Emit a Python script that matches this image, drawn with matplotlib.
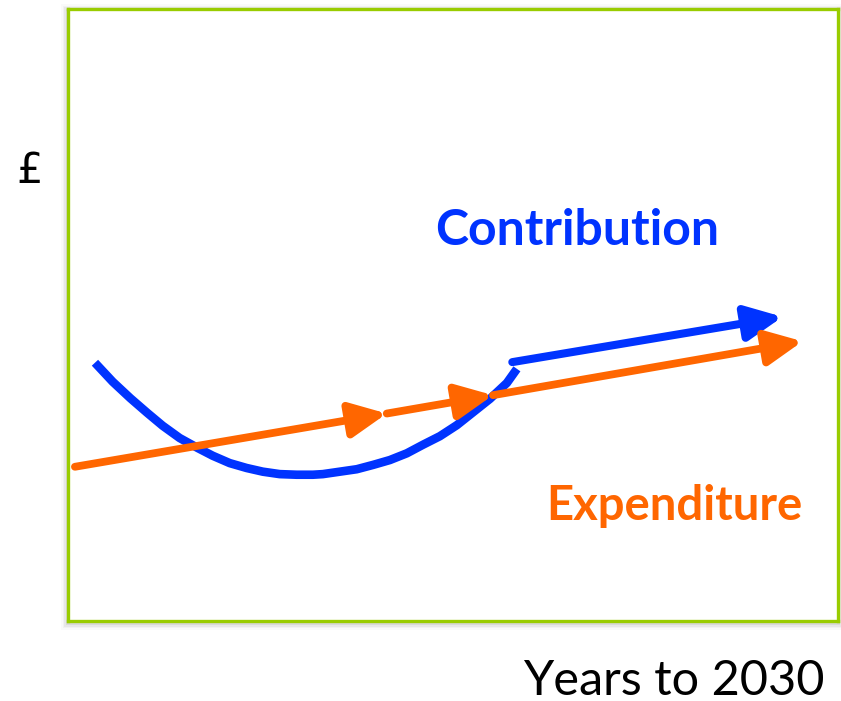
import matplotlib
matplotlib.use("Agg")
import matplotlib.pyplot as plt
from matplotlib.patches import Rectangle

# Conceptual chart: x = years (0..10), y = £ (0..10), arbitrary units
# Contribution: U-shaped dip, then a straight rising arrow
contrib_x = [0.35, 0.58, 0.81, 1.03, 1.23, 1.45, 1.68, 1.88, 2.10, 2.32, 2.53, 2.75, 2.97, 3.18,
             3.31, 3.53, 3.75, 3.96, 4.18, 4.40, 4.61, 4.83, 5.05, 5.26, 5.48, 5.70, 5.83]
contrib_y = [4.22, 3.91, 3.64, 3.40, 3.19, 2.99, 2.83, 2.70, 2.58, 2.50, 2.44, 2.40, 2.39, 2.39,
             2.40, 2.44, 2.48, 2.55, 2.63, 2.74, 2.88, 3.02, 3.20, 3.41, 3.63, 3.89, 4.12]
contrib_arrow_x = [5.77, 9.28]
contrib_arrow_y = [4.23, 4.97]

# Expenditure: steady rise, arrowheads marking each stage
expend_x = [0.09, 4.14, 5.52, 9.54]
expend_y = [2.52, 3.39, 3.69, 4.57]

BLUE = "#0033FF"
ORANGE = "#FF6600"
GREEN = "#99CC00"

fig = plt.figure(figsize=(8.41, 7.01), dpi=100)
W, H = 841, 701
ax = fig.add_axes([68 / W, (H - 621) / H, 770 / W, 612 / H])
ax.set_xlim(0, 10)
ax.set_ylim(0, 10)
ax.set_xticks([])
ax.set_yticks([])
for sp in ax.spines.values():
    sp.set_color(GREEN)
    sp.set_linewidth(2.4)

# soft drop shadow round the frame
for i, a in enumerate([0.06, 0.045, 0.03, 0.02]):
    off = (i + 1) * 1.8
    fig.patches.append(Rectangle(((68 - off) / W, (H - 621 - off - 2) / H),
                                 (770 + 2 * off) / W, (612 + 2 * off) / H,
                                 transform=fig.transFigure, facecolor="black",
                                 alpha=a, edgecolor="none", zorder=-1))

arrow_style = "-|>,head_length=2.2,head_width=1.05"

# expenditure arrows
for i in range(len(expend_x) - 1):
    ax.annotate("", xy=(expend_x[i + 1], expend_y[i + 1]), xytext=(expend_x[i], expend_y[i]),
                arrowprops=dict(arrowstyle=arrow_style, mutation_scale=10, lw=5.6,
                                color=ORANGE, shrinkA=0, shrinkB=0), zorder=3)

# contribution curve + arrow
ax.plot(contrib_x, contrib_y, color=BLUE, lw=6.2, solid_capstyle="butt",
        solid_joinstyle="round", zorder=2)
ax.annotate("", xy=(contrib_arrow_x[1], contrib_arrow_y[1]),
            xytext=(contrib_arrow_x[0], contrib_arrow_y[0]),
            arrowprops=dict(arrowstyle=arrow_style, mutation_scale=10, lw=5.8,
                            color=BLUE, shrinkA=0, shrinkB=0), zorder=2)

ax.text(6.61, 6.15, "Contribution", color=BLUE, fontsize=36, fontweight="bold",
        family="Lato", ha="center", va="baseline")
ax.text(7.88, 1.65, "Expenditure", color=ORANGE, fontsize=34, fontweight="bold",
        family="Lato", ha="center", va="baseline")

fig.text(825 / W, 1 - 695 / H, "Years to 2030", fontsize=35, family="Lato",
         ha="right", va="baseline", color="black")
fig.text(30 / W, 1 - 171 / H, "£", fontsize=30, ha="center", va="center", color="black")

fig.savefig("out.png", dpi=100)
